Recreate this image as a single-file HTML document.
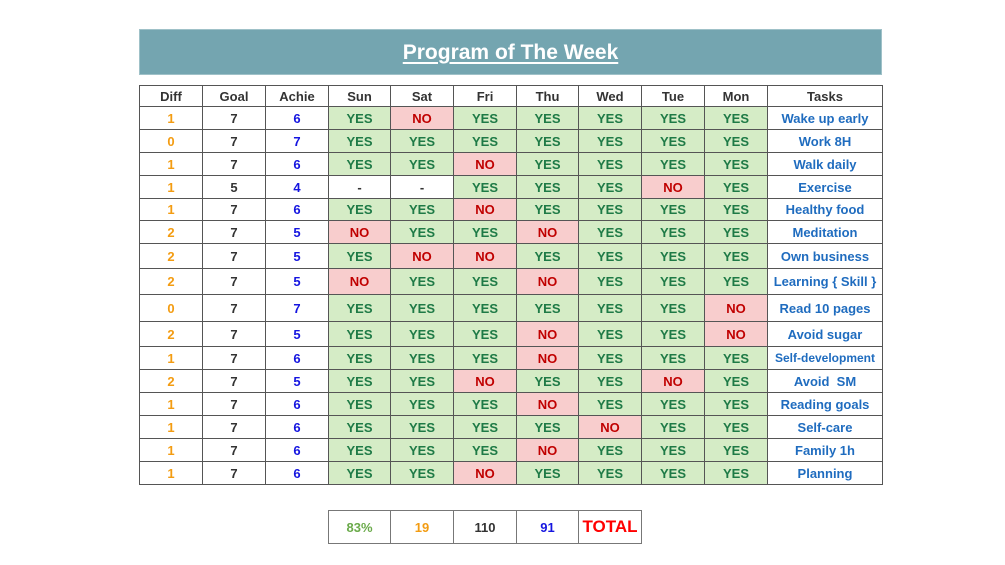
<!DOCTYPE html>
<html><head><meta charset="utf-8"><style>
*{margin:0;padding:0;box-sizing:border-box}
body{width:1005px;height:565px;background:#fff;position:relative;overflow:hidden;font-family:"Liberation Sans",sans-serif;font-weight:bold}
.title{position:absolute;left:139px;top:29px;width:743px;height:46px;background:#74a5b0;color:#fff;text-align:center;font-size:21px;line-height:46px;border:1px solid #9fc1c8}
.title span{text-decoration:underline;text-underline-offset:3px}
table{position:absolute;border-collapse:collapse;table-layout:fixed}
td{border:1px solid #555;text-align:center;font-size:13px;padding:0;color:#333}
#t{left:139px;top:85px;width:743px}
.h td{color:#333}
.d{color:#f39c12}.a{color:#1515e0}.g{color:#333}
.y{background:#d5ecc6;color:#1e7a46}
.n{background:#f8cdcd;color:#c00000}
.k{color:#1f6cbf}
#s{left:328px;top:510px;width:313px}
#s td{height:33px;border-color:#777}
</style></head><body>
<div class="title"><span>Program of The Week</span></div>
<table id="t">
<colgroup><col style="width:63px"><col style="width:63px"><col style="width:63px"><col style="width:62px"><col style="width:63px"><col style="width:63px"><col style="width:62px"><col style="width:63px"><col style="width:63px"><col style="width:63px"><col style="width:115px"></colgroup>
<tr class="h" style="height:21px"><td>Diff</td><td>Goal</td><td>Achie</td><td>Sun</td><td>Sat</td><td>Fri</td><td>Thu</td><td>Wed</td><td>Tue</td><td>Mon</td><td>Tasks</td></tr>
<tr style="height:23px"><td class="d">1</td><td class="g">7</td><td class="a">6</td><td class="y">YES</td><td class="n">NO</td><td class="y">YES</td><td class="y">YES</td><td class="y">YES</td><td class="y">YES</td><td class="y">YES</td><td class="k">Wake up early</td></tr>
<tr style="height:23px"><td class="d">0</td><td class="g">7</td><td class="a">7</td><td class="y">YES</td><td class="y">YES</td><td class="y">YES</td><td class="y">YES</td><td class="y">YES</td><td class="y">YES</td><td class="y">YES</td><td class="k">Work 8H</td></tr>
<tr style="height:23px"><td class="d">1</td><td class="g">7</td><td class="a">6</td><td class="y">YES</td><td class="y">YES</td><td class="n">NO</td><td class="y">YES</td><td class="y">YES</td><td class="y">YES</td><td class="y">YES</td><td class="k">Walk daily</td></tr>
<tr style="height:23px"><td class="d">1</td><td class="g">5</td><td class="a">4</td><td>-</td><td>-</td><td class="y">YES</td><td class="y">YES</td><td class="y">YES</td><td class="n">NO</td><td class="y">YES</td><td class="k">Exercise</td></tr>
<tr style="height:22px"><td class="d">1</td><td class="g">7</td><td class="a">6</td><td class="y">YES</td><td class="y">YES</td><td class="n">NO</td><td class="y">YES</td><td class="y">YES</td><td class="y">YES</td><td class="y">YES</td><td class="k">Healthy food</td></tr>
<tr style="height:23px"><td class="d">2</td><td class="g">7</td><td class="a">5</td><td class="n">NO</td><td class="y">YES</td><td class="y">YES</td><td class="n">NO</td><td class="y">YES</td><td class="y">YES</td><td class="y">YES</td><td class="k">Meditation</td></tr>
<tr style="height:25px"><td class="d">2</td><td class="g">7</td><td class="a">5</td><td class="y">YES</td><td class="n">NO</td><td class="n">NO</td><td class="y">YES</td><td class="y">YES</td><td class="y">YES</td><td class="y">YES</td><td class="k">Own business</td></tr>
<tr style="height:26px"><td class="d">2</td><td class="g">7</td><td class="a">5</td><td class="n">NO</td><td class="y">YES</td><td class="y">YES</td><td class="n">NO</td><td class="y">YES</td><td class="y">YES</td><td class="y">YES</td><td class="k">Learning { Skill }</td></tr>
<tr style="height:27px"><td class="d">0</td><td class="g">7</td><td class="a">7</td><td class="y">YES</td><td class="y">YES</td><td class="y">YES</td><td class="y">YES</td><td class="y">YES</td><td class="y">YES</td><td class="n">NO</td><td class="k">Read 10 pages</td></tr>
<tr style="height:25px"><td class="d">2</td><td class="g">7</td><td class="a">5</td><td class="y">YES</td><td class="y">YES</td><td class="y">YES</td><td class="n">NO</td><td class="y">YES</td><td class="y">YES</td><td class="n">NO</td><td class="k">Avoid sugar</td></tr>
<tr style="height:23px"><td class="d">1</td><td class="g">7</td><td class="a">6</td><td class="y">YES</td><td class="y">YES</td><td class="y">YES</td><td class="n">NO</td><td class="y">YES</td><td class="y">YES</td><td class="y">YES</td><td class="k" style="font-size:12px">Self-development</td></tr>
<tr style="height:23px"><td class="d">2</td><td class="g">7</td><td class="a">5</td><td class="y">YES</td><td class="y">YES</td><td class="n">NO</td><td class="y">YES</td><td class="y">YES</td><td class="n">NO</td><td class="y">YES</td><td class="k">Avoid&nbsp; SM</td></tr>
<tr style="height:23px"><td class="d">1</td><td class="g">7</td><td class="a">6</td><td class="y">YES</td><td class="y">YES</td><td class="y">YES</td><td class="n">NO</td><td class="y">YES</td><td class="y">YES</td><td class="y">YES</td><td class="k">Reading goals</td></tr>
<tr style="height:23px"><td class="d">1</td><td class="g">7</td><td class="a">6</td><td class="y">YES</td><td class="y">YES</td><td class="y">YES</td><td class="y">YES</td><td class="n">NO</td><td class="y">YES</td><td class="y">YES</td><td class="k">Self-care</td></tr>
<tr style="height:23px"><td class="d">1</td><td class="g">7</td><td class="a">6</td><td class="y">YES</td><td class="y">YES</td><td class="y">YES</td><td class="n">NO</td><td class="y">YES</td><td class="y">YES</td><td class="y">YES</td><td class="k">Family 1h</td></tr>
<tr style="height:23px"><td class="d">1</td><td class="g">7</td><td class="a">6</td><td class="y">YES</td><td class="y">YES</td><td class="n">NO</td><td class="y">YES</td><td class="y">YES</td><td class="y">YES</td><td class="y">YES</td><td class="k">Planning</td></tr>
</table>
<table id="s">
<colgroup><col style="width:62px"><col style="width:63px"><col style="width:63px"><col style="width:62px"><col style="width:63px"></colgroup>
<tr><td style="color:#6aaa4a">83%</td><td style="color:#f39c12">19</td><td style="color:#333">110</td><td style="color:#1515e0">91</td><td style="color:#ff0000;font-size:17px">TOTAL</td></tr>
</table>
</body></html>
